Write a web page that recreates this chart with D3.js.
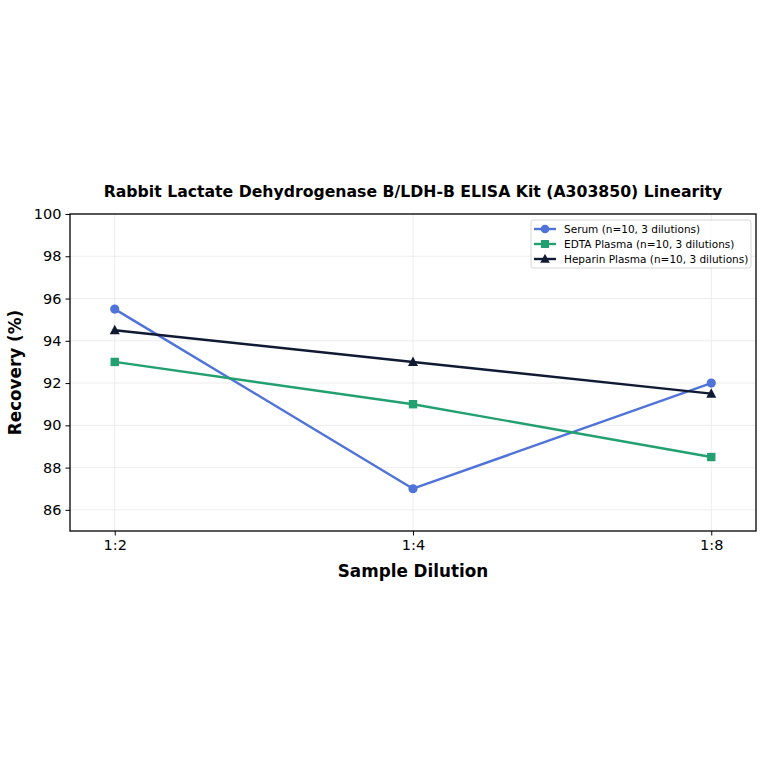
<!DOCTYPE html>
<html><head><meta charset="utf-8">
<script src="https://cdn.jsdelivr.net/npm/d3@7"></script>
<style>body{margin:0;background:#fff}svg{display:block}text{font-family:"DejaVu Sans",sans-serif}</style>
</head><body>
<svg id="c" width="764" height="764"></svg>
<script>
const categories = ["1:2","1:4","1:8"];
const serum = [95.5, 87.0, 92.0];
const edta = [93.0, 91.0, 88.5];
const heparin = [94.5, 93.0, 91.5];
const seriesNames = ["Serum (n=10, 3 dilutions)","EDTA Plasma (n=10, 3 dilutions)","Heparin Plasma (n=10, 3 dilutions)"];
const yTicks = [86,88,90,92,94,96,98,100];

const svg = d3.select("#c");
const L=70,R=756,T=214,B=531;
const x = d3.scaleLinear().domain([-0.15,2.15]).range([L,R]);
const y = d3.scaleLinear().domain([85,100]).range([B,T]);

const series = [
 {name:seriesNames[0], vals:serum, color:"#4f73d9", marker:"circle"},
 {name:seriesNames[1], vals:edta, color:"#22a070", marker:"square"},
 {name:seriesNames[2], vals:heparin, color:"#111a33", marker:"triangle"}
];

// grid
const g = svg.append("g");
g.selectAll(".gy").data(yTicks).join("line").attr("x1",L).attr("x2",R)
 .attr("y1",d=>y(d)).attr("y2",d=>y(d)).attr("stroke","#e8e8e8").attr("stroke-width",0.8);
g.selectAll(".gx").data(categories).join("line").attr("y1",T).attr("y2",B)
 .attr("x1",(d,i)=>x(i)).attr("x2",(d,i)=>x(i)).attr("stroke","#e8e8e8").attr("stroke-width",0.8);

// axes
const ya = d3.axisLeft(y).tickValues(yTicks).tickSize(4.5).tickPadding(4);
const xa = d3.axisBottom(x).tickValues([0,1,2]).tickFormat(i=>categories[i]).tickSize(4.5).tickPadding(4);
const yg = svg.append("g").attr("transform",`translate(${L},0)`).call(ya);
const xg = svg.append("g").attr("transform",`translate(0,${B})`).call(xa);
[yg,xg].forEach(a=>{a.select(".domain").remove();a.attr("font-size",14.5).attr("font-family","DejaVu Sans");a.selectAll("text").attr("fill","#000");a.selectAll("line").attr("stroke","#000").attr("stroke-width",1);});

// lines
const line = d3.line().x((d,i)=>x(i)).y(d=>y(d));
series.forEach(s=>{
 svg.append("path").datum(s.vals).attr("d",line).attr("fill","none").attr("stroke",s.color).attr("stroke-width",2.4).attr("stroke-linejoin","round");
});
function drawMarker(sel,type,cx,cy,color,scale){
 const k=scale||1;
 if(type==="circle") sel.append("circle").attr("cx",cx).attr("cy",cy).attr("r",4.6*k).attr("fill",color);
 else if(type==="square") sel.append("rect").attr("x",cx-4.2*k).attr("y",cy-4.2*k).attr("width",8.4*k).attr("height",8.4*k).attr("fill",color);
 else sel.append("path").attr("d",`M${cx},${cy-5.5*k}L${cx+5*k},${cy+4*k}L${cx-5*k},${cy+4*k}Z`).attr("fill",color);
}
series.forEach(s=>{ s.vals.forEach((v,i)=>drawMarker(svg,s.marker,x(i),y(v),s.color)); });

// frame
svg.append("rect").attr("x",L).attr("y",T).attr("width",R-L).attr("height",B-T).attr("fill","none").attr("stroke","#000").attr("stroke-width",1.3);

// title & labels
svg.append("text").attr("x",(L+R)/2).attr("y",197).attr("text-anchor","middle").attr("font-size",15.7).attr("font-weight","bold").text("Rabbit Lactate Dehydrogenase B/LDH-B ELISA Kit (A303850) Linearity");
svg.append("text").attr("x",(L+R)/2).attr("y",577).attr("text-anchor","middle").attr("font-size",16.8).attr("font-weight","bold").text("Sample Dilution");
svg.append("text").attr("transform",`translate(21,${(T+B)/2}) rotate(-90)`).attr("text-anchor","middle").attr("font-size",16.8).attr("font-weight","bold").text("Recovery (%)");

// legend
const lg = svg.append("g");
lg.append("rect").attr("x",531).attr("y",220).attr("width",220).attr("height",48).attr("rx",2.5).attr("fill","#fff").attr("fill-opacity",0.8).attr("stroke","#ccc").attr("stroke-width",0.8);
series.forEach((s,i)=>{
 const yy=229+i*15;
 lg.append("line").attr("x1",534).attr("x2",556).attr("y1",yy).attr("y2",yy).attr("stroke",s.color).attr("stroke-width",2.4);
 drawMarker(lg,s.marker,545,yy,s.color,0.95);
 lg.append("text").attr("x",564).attr("y",yy+3.8).attr("font-size",10.5).text(s.name);
});
</script>
</body></html>
